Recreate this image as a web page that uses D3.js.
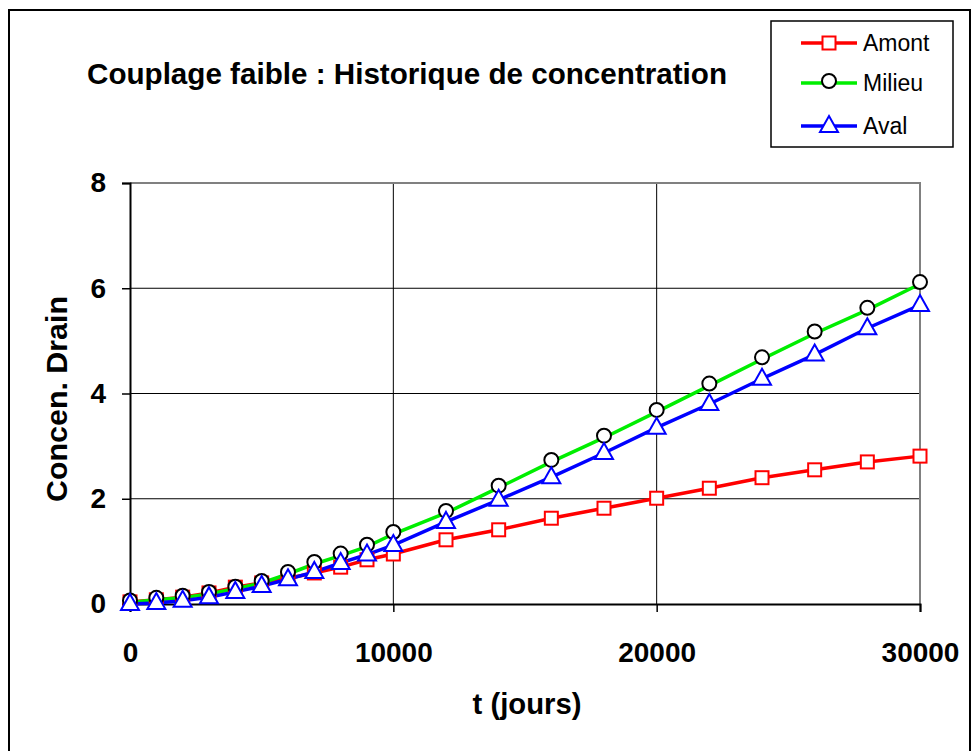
<!DOCTYPE html>
<html>
<head>
<meta charset="utf-8">
<style>
  body { margin: 0; background: #fff; }
  text { font-family: "Liberation Sans", Arial, sans-serif; }
</style>
</head>
<body>
<script src="https://cdn.jsdelivr.net/npm/d3@7"></script>
<script>
// temps (jours)
var times = [0, 1000, 2000, 3000, 4000, 5000, 6000, 7000, 8000, 9000, 10000,
             12000, 14000, 16000, 18000, 20000, 22000, 24000, 26000, 28000, 30000];
var amont  = [0.04, 0.08, 0.13, 0.21, 0.32, 0.40, 0.49, 0.59, 0.70, 0.84, 0.95,
              1.22, 1.41, 1.63, 1.82, 2.01, 2.20, 2.40, 2.55, 2.70, 2.81];
var milieu = [0.03, 0.08, 0.12, 0.19, 0.29, 0.40, 0.57, 0.76, 0.92, 1.09, 1.33,
              1.73, 2.21, 2.70, 3.16, 3.65, 4.15, 4.65, 5.14, 5.59, 6.08];
var aval   = [0.0, 0.02, 0.06, 0.13, 0.23, 0.34, 0.47, 0.61, 0.78, 0.94, 1.12,
              1.56, 1.98, 2.41, 2.87, 3.35, 3.80, 4.28, 4.74, 5.24, 5.68];
var seriesNames = ["Amont", "Milieu", "Aval"];
var xTicks = [0, 10000, 20000, 30000];
var yTicks = [0, 2, 4, 6, 8];

var W = 975, H = 751;
var svg = d3.select("body").append("svg").attr("width", W).attr("height", H);

// cadre extérieur
svg.append("rect").attr("x", 9).attr("y", 10).attr("width", 961).attr("height", 760)
  .attr("fill", "none").attr("stroke", "#000").attr("stroke-width", 2);

var x = d3.scaleLinear().domain([0, 30000]).range([130, 920]);
var y = d3.scaleLinear().domain([0, 8]).range([604, 183]);

// grille
svg.append("g").selectAll("line").data(yTicks.slice(1, 4)).enter().append("line")
  .attr("x1", 130).attr("x2", 920)
  .attr("y1", function(d){ return y(d); }).attr("y2", function(d){ return y(d); })
  .attr("stroke", "#000").attr("stroke-width", 1);
svg.append("g").selectAll("line").data(xTicks.slice(1, 3)).enter().append("line")
  .attr("y1", 183).attr("y2", 604)
  .attr("x1", function(d){ return x(d); }).attr("x2", function(d){ return x(d); })
  .attr("stroke", "#000").attr("stroke-width", 1);
// bord haut et droit gris
svg.append("path").attr("d", "M130,183H920V604").attr("fill", "none")
  .attr("stroke", "#808080").attr("stroke-width", 2);

// axes
var gx = svg.append("g").attr("transform", "translate(0,604)")
  .call(d3.axisBottom(x).tickValues(xTicks).tickSize(8).tickPadding(30).tickFormat(d3.format("d")));
var gy = svg.append("g").attr("transform", "translate(130,0)")
  .call(d3.axisLeft(y).tickValues(yTicks).tickSize(8).tickPadding(16).tickFormat(d3.format("d")));
[gx, gy].forEach(function(g){
  g.select(".domain").attr("stroke", "#000").attr("stroke-width", 2);
  g.selectAll(".tick line").attr("stroke", "#000").attr("stroke-width", 1.5);
  g.selectAll(".tick text").attr("fill", "#000")
    .style("font-size", "28px").style("font-weight", "bold")
    .style("font-family", "'Liberation Sans', Arial, sans-serif");
});

// titres
svg.append("text").attr("x", 87).attr("y", 84)
  .attr("textLength", 640).attr("lengthAdjust", "spacingAndGlyphs")
  .style("font-size", "30px").style("font-weight", "bold")
  .text("Couplage faible : Historique de concentration");
svg.append("text").attr("x", 527).attr("y", 714).attr("text-anchor", "middle")
  .attr("textLength", 109).attr("lengthAdjust", "spacingAndGlyphs")
  .style("font-size", "29px").style("font-weight", "bold").text("t (jours)");
svg.append("text").attr("transform", "translate(67,399) rotate(-90)").attr("text-anchor", "middle")
  .attr("textLength", 206).attr("lengthAdjust", "spacingAndGlyphs")
  .style("font-size", "30px").style("font-weight", "bold").text("Concen. Drain");

var colors = ["#ff0000", "#00ee00", "#0000ff"];
var markColors = ["#ff0000", "#000000", "#0000ff"];
var data = [amont, milieu, aval];

var line = d3.line().x(function(d){ return x(d[0]); }).y(function(d){ return y(d[1]); });

function drawMarker(g, k) {
  if (k === 0) {
    g.append("rect").attr("x", -6.5).attr("y", -6.5).attr("width", 13).attr("height", 13)
      .attr("fill", "#fff").attr("stroke", markColors[k]).attr("stroke-width", 2);
  } else if (k === 1) {
    g.append("ellipse").attr("cx", 0).attr("cy", -2).attr("rx", 7).attr("ry", 7)
      .attr("fill", "#fff").attr("stroke", markColors[k]).attr("stroke-width", 2);
  } else {
    g.append("path").attr("d", "M0,-10L9,6H-9Z")
      .attr("fill", "#fff").attr("stroke", markColors[k]).attr("stroke-width", 2);
  }
}

data.forEach(function(vals, k){
  var pts = times.map(function(t, i){ return [t, vals[i]]; });
  svg.append("path").datum(pts).attr("d", line).attr("fill", "none")
    .attr("stroke", colors[k]).attr("stroke-width", 3.5);
});
data.forEach(function(vals, k){
  times.forEach(function(t, i){
    var g = svg.append("g").attr("transform", "translate(" + x(t) + "," + y(vals[i]) + ")");
    drawMarker(g, k);
  });
});

// légende
svg.append("rect").attr("x", 771).attr("y", 21).attr("width", 182).attr("height", 126)
  .attr("fill", "#fff").attr("stroke", "#000").attr("stroke-width", 1.5);
var ly = [43, 83, 126];
seriesNames.forEach(function(name, k){
  svg.append("line").attr("x1", 801).attr("x2", 857).attr("y1", ly[k]).attr("y2", ly[k])
    .attr("stroke", colors[k]).attr("stroke-width", 3.5);
  var g = svg.append("g").attr("transform", "translate(829," + ly[k] + ")");
  drawMarker(g, k);
  svg.append("text").attr("x", 863).attr("y", ly[k] + 8).style("font-size", "23px").text(name);
});
</script>
</body>
</html>
